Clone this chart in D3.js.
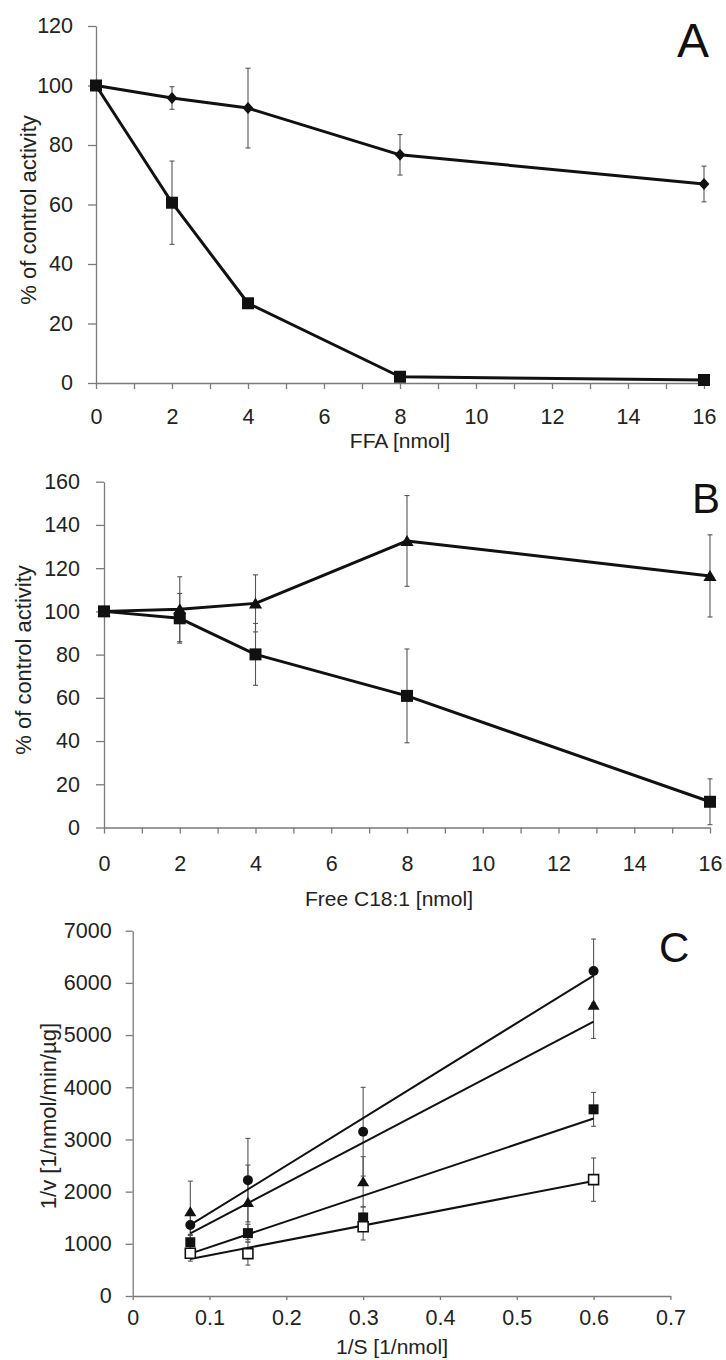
<!DOCTYPE html>
<html>
<head>
<meta charset="utf-8">
<script src="https://cdn.jsdelivr.net/npm/d3@7"></script>
<style>
  html, body { margin: 0; padding: 0; background: #ffffff; }
  svg { display: block; font-family: "Liberation Sans", Arial, sans-serif; }
  .tick text { fill: #222; font-size: 21.5px; font-family: "Liberation Sans", Arial, sans-serif; }
  .domain, .tick line { stroke: #7a7a7a; stroke-width: 1.3px; }
</style>
</head>
<body>
<svg id="fig" width="726" height="1360"></svg>
<script>
// Panel A: activity vs. FFA amount
const ffaDose = [0, 2, 4, 8, 16];
const ffaDiamond = [100, 95.8, 92.4, 76.7, 66.9];
const ffaDiamondErr = [0, 3.8, 13.4, 6.8, 6.0];
const ffaSquare = [100, 60.6, 26.8, 2.1, 1.0];
const ffaSquareErr = [0, 14.0, 0, 0, 0];
const ffaYTicks = [0, 20, 40, 60, 80, 100, 120];

// Panel B: activity vs. free oleic acid (C18:1)
const oleDose = [0, 2, 4, 8, 16];
const oleTriangle = [100, 101.0, 103.7, 132.6, 116.4];
const oleTriangleErr = [0, 15.0, 13.2, 21.0, 19.0];
const oleSquare = [100, 96.8, 80.1, 60.9, 11.9];
const oleSquareErr = [0, 11.5, 14.3, 21.7, 10.6];
const oleYTicks = [0, 20, 40, 60, 80, 100, 120, 140, 160];

// Panel C: double-reciprocal (Lineweaver-Burk) plot
const invS = [0.075, 0.15, 0.3, 0.6];
const lbCircle = [1360, 2220, 3148, 6227];
const lbCircleErr = [200, 800, 850, 613];
const lbTriangle = [1616, 1795, 2190, 5576];
const lbTriangleErr = [585, 715, 480, 640];
const lbSquare = [1030, 1205, 1505, 3577];
const lbSquareErr = [150, 170, 200, 325];
const lbOpenSquare = [818, 812, 1328, 2230];
const lbOpenSquareErr = [150, 220, 255, 415];
const lbXTicks = [0, 0.1, 0.2, 0.3, 0.4, 0.5, 0.6, 0.7];
const lbYTicks = [0, 1000, 2000, 3000, 4000, 5000, 6000, 7000];

const svg = d3.select("#fig");

// marker shapes centred on (0,0)
const shapes = {
  square: s => `M${-s/2},${-s/2}h${s}v${s}h${-s}Z`,
  diamond: s => `M0,${-s/2}L${s*0.45},0L0,${s/2}L${-s*0.45},0Z`,
  triangle: s => `M0,${-s*0.5}L${s*0.55},${s*0.42}L${-s*0.55},${s*0.42}Z`
};

function drawMarkers(g, xs, ys, x, y, kind, size, fill) {
  const sel = g.append("g").selectAll("path.m")
    .data(xs.map((d, i) => [d, ys[i]]))
    .join(kind === "circle" ? "circle" : "path");
  if (kind === "circle") {
    sel.attr("cx", d => x(d[0])).attr("cy", d => y(d[1])).attr("r", size / 2)
      .attr("fill", fill);
  } else {
    sel.attr("d", shapes[kind](size))
      .attr("transform", d => `translate(${x(d[0])},${y(d[1])})`)
      .attr("fill", fill === "none" ? "#fff" : fill)
      .attr("stroke", fill === "none" ? "#111" : "none")
      .attr("stroke-width", 1.6);
  }
}

function drawErrors(g, xs, ys, errs, x, y, cap) {
  const pts = xs.map((d, i) => ({ x: d, y: ys[i], e: errs[i] })).filter(p => p.e > 0);
  const eg = g.append("g").attr("stroke", "#555").attr("stroke-width", 1.1);
  pts.forEach(p => {
    const cx = x(p.x), t = y(p.y + p.e), b = y(p.y - p.e);
    eg.append("line").attr("x1", cx).attr("x2", cx).attr("y1", t).attr("y2", b);
    eg.append("line").attr("x1", cx - cap).attr("x2", cx + cap).attr("y1", t).attr("y2", t);
    eg.append("line").attr("x1", cx - cap).attr("x2", cx + cap).attr("y1", b).attr("y2", b);
  });
}

function drawSeriesLine(g, xs, ys, x, y, w) {
  g.append("path")
    .datum(xs.map((d, i) => [d, ys[i]]))
    .attr("fill", "none").attr("stroke", "#111").attr("stroke-width", w)
    .attr("stroke-linejoin", "round")
    .attr("d", d3.line().x(d => x(d[0])).y(d => y(d[1])));
}

// least-squares trend line across the measured range
function drawTrend(g, xs, ys, x, y) {
  const mx = d3.mean(xs), my = d3.mean(ys);
  const sxy = d3.sum(xs, (d, i) => (d - mx) * (ys[i] - my));
  const sxx = d3.sum(xs, d => (d - mx) * (d - mx));
  const slope = sxy / sxx, icpt = my - slope * mx;
  const ends = d3.extent(xs);
  g.append("line")
    .attr("x1", x(ends[0])).attr("y1", y(icpt + slope * ends[0]))
    .attr("x2", x(ends[1])).attr("y2", y(icpt + slope * ends[1]))
    .attr("stroke", "#111").attr("stroke-width", 2);
}

function axisTitleY(text, cx, cy) {
  svg.append("text").attr("transform", `translate(${cx},${cy}) rotate(-90)`)
    .attr("text-anchor", "middle").attr("font-size", 22).attr("fill", "#222").text(text);
}
function axisTitleX(text, cx, cy) {
  svg.append("text").attr("x", cx).attr("y", cy)
    .attr("text-anchor", "middle").attr("font-size", 21).attr("fill", "#222").text(text);
}
function panelLetter(text, px, py, fs) {
  svg.append("text").attr("x", px).attr("y", py).attr("font-size", fs)
    .attr("fill", "#111").text(text);
}

// ---------- Panel A ----------
{
  const x = d3.scaleLinear().domain([0, 16]).range([96, 704]);
  const y = d3.scaleLinear().domain([0, 120]).range([383, 26]);
  const g = svg.append("g");
  g.append("g").attr("transform", `translate(0,${y(0)})`)
    .call(d3.axisBottom(x).tickValues(d3.range(0, 17)).tickSize(6).tickSizeOuter(0).tickPadding(20)
      .tickFormat(d => d % 2 === 0 ? d : ""));
  g.append("g").attr("transform", `translate(${x(0)},0)`)
    .call(d3.axisLeft(y).tickValues(ffaYTicks).tickSize(8).tickSizeOuter(0).tickPadding(15));
  drawSeriesLine(g, ffaDose, ffaDiamond, x, y, 3);
  drawSeriesLine(g, ffaDose, ffaSquare, x, y, 3);
  drawErrors(g, ffaDose, ffaDiamond, ffaDiamondErr, x, y, 2.5);
  drawErrors(g, ffaDose, ffaSquare, ffaSquareErr, x, y, 2.5);
  drawMarkers(g, ffaDose, ffaDiamond, x, y, "diamond", 12, "#111");
  drawMarkers(g, ffaDose, ffaSquare, x, y, "square", 12, "#111");
  axisTitleY("% of control activity", 35.5, 210);
  axisTitleX("FFA [nmol]", 400, 448);
  panelLetter("A", 677, 57, 48);
}

// ---------- Panel B ----------
{
  const x = d3.scaleLinear().domain([0, 16]).range([104, 710]);
  const y = d3.scaleLinear().domain([0, 160]).range([827.5, 481.7]);
  const g = svg.append("g");
  g.append("g").attr("transform", `translate(0,${y(0)})`)
    .call(d3.axisBottom(x).tickValues(d3.range(0, 17)).tickSize(6).tickSizeOuter(0).tickPadding(22.5)
      .tickFormat(d => d % 2 === 0 ? d : ""));
  g.append("g").attr("transform", `translate(${x(0)},0)`)
    .call(d3.axisLeft(y).tickValues(oleYTicks).tickSize(8).tickSizeOuter(0).tickPadding(16));
  drawSeriesLine(g, oleDose, oleTriangle, x, y, 3);
  drawSeriesLine(g, oleDose, oleSquare, x, y, 3);
  drawErrors(g, oleDose, oleTriangle, oleTriangleErr, x, y, 2.5);
  drawErrors(g, oleDose, oleSquare, oleSquareErr, x, y, 2.5);
  drawMarkers(g, oleDose, oleTriangle, x, y, "triangle", 12, "#111");
  drawMarkers(g, oleDose, oleSquare, x, y, "square", 12, "#111");
  axisTitleY("% of control activity", 31, 660);
  axisTitleX("Free C18:1 [nmol]", 389, 906);
  panelLetter("B", 692, 513, 42);
}

// ---------- Panel C ----------
{
  const x = d3.scaleLinear().domain([0, 0.7]).range([132.7, 670.4]);
  const y = d3.scaleLinear().domain([0, 7000]).range([1296, 930.7]);
  const g = svg.append("g");
  g.append("g").attr("transform", `translate(0,${y(0)})`)
    .call(d3.axisBottom(x).tickValues(lbXTicks).tickSize(4).tickSizeOuter(0).tickPadding(10)
      .tickFormat(d => d === 0 ? "0" : d3.format(".1f")(d)));
  g.append("g").attr("transform", `translate(${x(0)},0)`)
    .call(d3.axisLeft(y).tickValues(lbYTicks).tickSize(7).tickSizeOuter(0).tickPadding(14)
      .tickFormat(d3.format("d")));
  [[lbCircle, lbCircleErr], [lbTriangle, lbTriangleErr], [lbSquare, lbSquareErr], [lbOpenSquare, lbOpenSquareErr]]
    .forEach(([vals, errs]) => drawErrors(g, invS, vals, errs, x, y, 2.5));
  [lbCircle, lbTriangle, lbSquare, lbOpenSquare].forEach(vals => drawTrend(g, invS, vals, x, y));
  drawMarkers(g, invS, lbCircle, x, y, "circle", 10, "#111");
  drawMarkers(g, invS, lbTriangle, x, y, "triangle", 11, "#111");
  drawMarkers(g, invS, lbSquare, x, y, "square", 10, "#111");
  drawMarkers(g, invS, lbOpenSquare, x, y, "square", 10, "none");
  axisTitleY("1/v [1/nmol/min/µg]", 56, 1116);
  axisTitleX("1/S [1/nmol]", 392, 1354);
  panelLetter("C", 659, 962, 42);
}
</script>
</body>
</html>
